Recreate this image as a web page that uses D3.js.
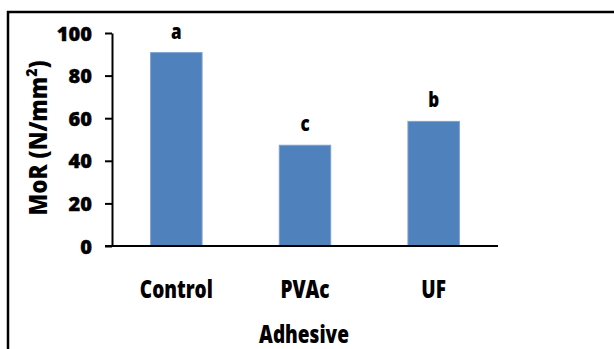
<!DOCTYPE html>
<html><head><meta charset="utf-8">
<script src="https://cdn.jsdelivr.net/npm/d3@7"></script>
<style>body{margin:0;background:#fff}svg{display:block}text{font-family:"Open Sans",Lato,sans-serif;font-weight:800;fill:#000}</style>
</head><body>
<svg id="c" width="614" height="349"></svg>
<script>
const categories = ["Control", "PVAc", "UF"];
const values = [90.8, 47.3, 58.5];
const letters = ["a", "c", "b"];
const yTicks = [0, 20, 40, 60, 80, 100];

const svg = d3.select("#c");
// outer frame (left and top edges visible)
svg.append("path").attr("d", "M8,349 L8,12 L614,12").attr("fill", "none").attr("stroke", "#000").attr("stroke-width", 2.5);

const x = d3.scaleBand().domain(categories).range([112, 498]).paddingInner(0.6).paddingOuter(0.3);
const y = d3.scaleLinear().domain([0, 100]).range([246, 33]);

// bars
svg.selectAll("rect.bar").data(values).enter().append("rect")
  .attr("x", (d, i) => x(categories[i]))
  .attr("y", d => y(d))
  .attr("width", x.bandwidth())
  .attr("height", d => y(0) - y(d))
  .attr("fill", "#4F81BD").attr("stroke", "#7EA1CF").attr("stroke-width", 1);

// y axis
const yAxis = d3.axisLeft(y).tickValues(yTicks).tickSize(7).tickPadding(13).tickSizeOuter(0);
const gy = svg.append("g").attr("transform", "translate(112,0)").call(yAxis);
gy.select(".domain").attr("stroke", "#000").attr("stroke-width", 2);
gy.selectAll(".tick line").attr("stroke", "#000").attr("stroke-width", 2);
gy.selectAll(".tick text").style("font-size", "20px").style("font-family", "\"Open Sans\",sans-serif")
  .style("font-weight", "800").attr("stroke", "#000").attr("stroke-width", 0.4).attr("dy", "0.35em");

// x axis line
svg.append("line").attr("x1", 105).attr("x2", 498).attr("y1", y(0)).attr("y2", y(0)).attr("stroke", "#000").attr("stroke-width", 2);

// category labels (vertically stretched like the reference)
svg.selectAll("text.cat").data(categories).enter().append("text")
  .attr("transform", d => `translate(${x(d) + x.bandwidth() / 2},298) scale(1,1.28)`)
  .attr("text-anchor", "middle").style("font-size", "19px").text(d => d);

// letters
svg.selectAll("text.let").data(values).enter().append("text")
  .attr("transform", (d, i) => `translate(${x(categories[i]) + x.bandwidth() / 2},${y(d) - 14}) scale(1,1.25)`)
  .attr("text-anchor", "middle").style("font-size", "17px").text((d, i) => letters[i]);

// axis titles
svg.append("text").attr("transform", "translate(304,343) scale(1,1.28)").attr("text-anchor", "middle").style("font-size", "19px").text("Adhesive");
const yt = svg.append("text").attr("transform", "translate(47,138) rotate(-90) scale(1,1.12)").attr("text-anchor", "middle").style("font-size", "22.5px");
yt.append("tspan").text("MoR (N/mm");
yt.append("tspan").attr("dy", -9).style("font-size", "14px").text("2");
yt.append("tspan").attr("dy", 9).text(")");
</script>
</body></html>
